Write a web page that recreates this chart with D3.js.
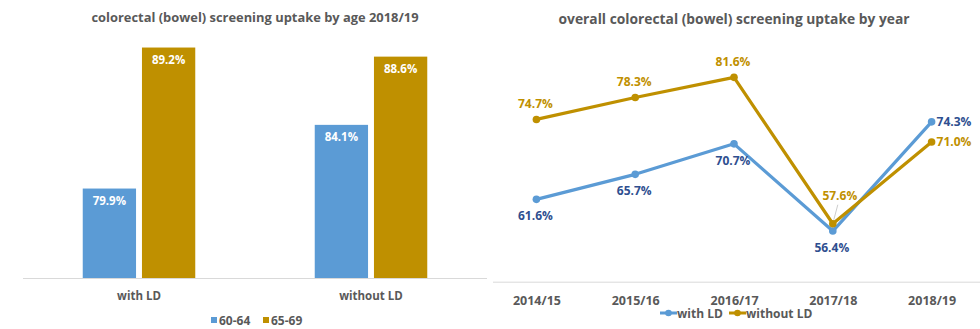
<!DOCTYPE html>
<html><head><meta charset="utf-8">
<script src="https://cdn.jsdelivr.net/npm/d3@7"></script>
<style>
body{margin:0;background:#fff;}
svg{display:block;font-family:"Open Sans",sans-serif;}
</style></head>
<body>
<svg id="c" width="980" height="329"></svg>
<script>
// ---- data ----
const barCategories = ["with LD", "without LD"];
const ageGroups = ["60-64", "65-69"];
const uptake6064 = [79.9, 84.1];
const uptake6569 = [89.2, 88.6];

const years = ["2014/15", "2015/16", "2016/17", "2017/18", "2018/19"];
const withLD = [61.6, 65.7, 70.7, 56.4, 74.3];
const withoutLD = [74.7, 78.3, 81.6, 57.6, 71.0];
const lineSeries = ["with LD", "without LD"];

// ---- style ----
const BLUE = "#5B9BD5", GOLD = "#BF9000";
const BLUE_TXT = "#2F4F90", GOLD_TXT = "#BF9000";
const GRAY = "#595959";

const svg = d3.select("#c");

// ================= LEFT: bar chart =================
const L = svg.append("g");
L.append("text").attr("x", 255).attr("y", 22).attr("text-anchor", "middle")
  .attr("font-size", 12.9).attr("font-weight", "bold").attr("fill", GRAY)
  .text("colorectal (bowel) screening uptake by age 2018/19");

const yB = d3.scaleLinear().domain([74, 90]).range([278, 35.4]);
const x0 = d3.scaleBand().domain(barCategories).range([23, 487]).paddingInner(0.515).paddingOuter(0.2575);
const x1 = d3.scaleBand().domain(ageGroups).range([0, x0.bandwidth()]).paddingInner(0.1);

const barData = barCategories.map((c, i) => ({cat: c, vals: [
  {g: ageGroups[0], v: uptake6064[i], col: BLUE},
  {g: ageGroups[1], v: uptake6569[i], col: GOLD}]}));

const grp = L.selectAll("g.grp").data(barData).join("g")
  .attr("transform", d => `translate(${x0(d.cat)},0)`);
grp.selectAll("rect").data(d => d.vals).join("rect")
  .attr("x", d => x1(d.g)).attr("width", x1.bandwidth())
  .attr("y", d => yB(d.v)).attr("height", d => yB.range()[0] - yB(d.v))
  .attr("fill", d => d.col);
grp.selectAll("text").data(d => d.vals).join("text")
  .attr("x", d => x1(d.g) + x1.bandwidth() / 2).attr("y", d => yB(d.v) + 16)
  .attr("text-anchor", "middle").attr("font-size", 11.5).attr("font-weight", "bold")
  .attr("fill", "#fff").text(d => d.v.toFixed(1) + "%");

const axB = L.append("g").attr("transform", "translate(0,278)")
  .call(d3.axisBottom(x0).tickSize(0).tickPadding(14));
axB.select(".domain").attr("stroke", "#D9D9D9").attr("d", "M23,0.5H487");
axB.selectAll("text").attr("font-size", 11.5).attr("font-weight", "bold").attr("fill", GRAY)
  .attr("font-family", "Open Sans");

// legend
const lgB = L.append("g");
const lgBItems = [{t: ageGroups[0], c: BLUE, x: 211}, {t: ageGroups[1], c: GOLD, x: 263}];
lgB.selectAll("rect").data(lgBItems).join("rect")
  .attr("x", d => d.x).attr("y", 317).attr("width", 6).attr("height", 6).attr("fill", d => d.c);
lgB.selectAll("text").data(lgBItems).join("text")
  .attr("x", d => d.x + 8).attr("y", 324.5).attr("font-size", 12).attr("font-weight", "bold")
  .attr("fill", GRAY).text(d => d.t);

// ================= RIGHT: line chart =================
const R = svg.append("g");
R.append("text").attr("x", 734).attr("y", 24).attr("text-anchor", "middle")
  .attr("font-size", 13.8).attr("font-weight", "bold").attr("fill", GRAY)
  .text("overall colorectal (bowel) screening uptake by year");

const xL = d3.scalePoint().domain(years).range([487, 981]).padding(0.5);
const yL = d3.scaleLinear().domain([48.1, 90]).range([281.7, 26.1]);

const axL = R.append("g").attr("transform", "translate(0,281.7)")
  .call(d3.axisBottom(xL).tickSize(0).tickPadding(14));
axL.select(".domain").attr("stroke", "#D9D9D9").attr("d", "M493,0.5H980");
axL.selectAll("text").attr("font-size", 12.5).attr("font-weight", "bold").attr("fill", GRAY)
  .attr("font-family", "Open Sans");

const lineGen = d3.line().x(d => xL(d.y)).y(d => yL(d.v));
const series = [
  {name: lineSeries[0], vals: withLD, col: BLUE, txt: BLUE_TXT,
   pos: ["below", "below", "below", "below", "right"]},
  {name: lineSeries[1], vals: withoutLD, col: GOLD, txt: GOLD_TXT,
   pos: ["above", "above", "above", "high", "right"]}
];
series.forEach(s => { s.pts = s.vals.map((v, i) => ({y: years[i], v})); });

// leader line for the raised label
R.append("line").attr("x1", xL(years[3]) + 1).attr("y1", yL(withoutLD[3]) - 4)
  .attr("x2", xL(years[3]) + 5).attr("y2", yL(withoutLD[3]) - 19)
  .attr("stroke", "#BFBFBF").attr("stroke-width", 0.8);

series.forEach(s => {
  R.append("path").datum(s.pts).attr("d", lineGen).attr("fill", "none")
    .attr("stroke", s.col).attr("stroke-width", 3.2).attr("stroke-linejoin", "round");
  R.selectAll(null).data(s.pts).join("circle")
    .attr("cx", d => xL(d.y)).attr("cy", d => yL(d.v)).attr("r", 3.8).attr("fill", s.col);
});
series.forEach(s => {
  R.selectAll(null).data(s.pts).join("text")
    .attr("x", (d, i) => {
      const p = s.pos[i];
      if (p === "right") return xL(d.y) + 5;
      if (p === "high") return xL(d.y) + 7;
      return xL(d.y) - 1;
    })
    .attr("y", (d, i) => {
      const p = s.pos[i];
      if (p === "above") return yL(d.v) - 11;
      if (p === "high") return yL(d.v) - 24;
      if (p === "below") return yL(d.v) + 21;
      return yL(d.v) + 4;
    })
    .attr("text-anchor", (d, i) => s.pos[i] === "right" ? "start" : "middle")
    .attr("font-size", 12).attr("font-weight", "bold").attr("fill", s.txt)
    .text(d => d.v.toFixed(1) + "%");
});

// line legend
const lgL = R.append("g");
const lgLItems = [{t: lineSeries[0], c: BLUE, x: 660}, {t: lineSeries[1], c: GOLD, x: 729}];
lgLItems.forEach(d => {
  lgL.append("line").attr("x1", d.x).attr("x2", d.x + 17).attr("y1", 313).attr("y2", 313)
    .attr("stroke", d.c).attr("stroke-width", 3);
  lgL.append("circle").attr("cx", d.x + 8.5).attr("cy", 313).attr("r", 3.3).attr("fill", d.c);
  lgL.append("text").attr("x", d.x + 17).attr("y", 317.5).attr("font-size", 12)
    .attr("font-weight", "bold").attr("fill", GRAY).text(d.t);
});
</script>
</body></html>
